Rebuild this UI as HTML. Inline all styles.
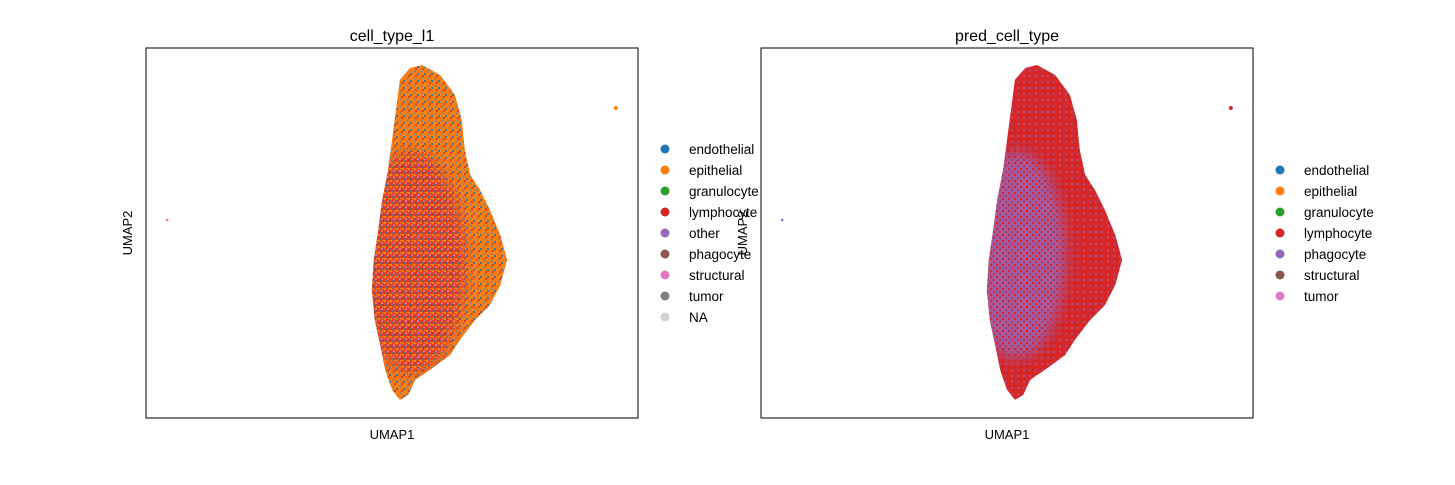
<!DOCTYPE html>
<html><head><meta charset="utf-8"><style>
body{margin:0;background:#fff;font-family:"Liberation Sans","DejaVu Sans",sans-serif;}
text{font-family:"Liberation Sans","DejaVu Sans",sans-serif;}
</style></head><body>
<svg id="fig" width="1455" height="480" xmlns="http://www.w3.org/2000/svg">
<defs>
<pattern id="pL" width="7" height="7" patternUnits="userSpaceOnUse">
<rect width="7" height="7" fill="#ff7f0e"/>
<circle cx="1.5" cy="1.5" r="1.1" fill="#7f7f7f"/><circle cx="5" cy="4" r="1.1" fill="#1f77b4"/>
<circle cx="3" cy="6" r="1" fill="#d62728"/>
</pattern>
<pattern id="pLc" width="6" height="6" patternUnits="userSpaceOnUse">
<rect width="6" height="6" fill="#d62728"/>
<circle cx="1" cy="1" r="1.3" fill="#ff7f0e"/><circle cx="4" cy="3" r="1.1" fill="#e377c2"/>
<circle cx="2" cy="5" r="1" fill="#1f77b4"/><circle cx="5" cy="0.5" r="1" fill="#ff7f0e"/>
</pattern>
<pattern id="pR" width="6" height="6" patternUnits="userSpaceOnUse">
<rect width="6" height="6" fill="#d62728"/><circle cx="4" cy="4" r="0.9" fill="#9467bd"/>
</pattern>
<pattern id="pRc" width="6" height="6" patternUnits="userSpaceOnUse">
<rect width="6" height="6" fill="#9467bd"/><circle cx="1" cy="1" r="1.3" fill="#d62728"/><circle cx="4" cy="4" r="1.1" fill="#d62728"/>
</pattern>
<filter id="soft"><feGaussianBlur stdDeviation="6"/></filter>
</defs>
<g id="plots"></g>
</svg>
<script>
// outline of embedding (axes units 0-100)
const outlineX=[56.1,59.8,62.8,64.2,64.8,65.9,67.9,69.9,72.0,73.4,72.0,69.9,66.9,63.8,61.8,57.7,54.7,53.3,51.6,50.0,48.6,47.6,46.5,45.9,46.3,47.2,48.0,49.2,50.0,50.8,51.6,53.7];
const outlineY=[95.4,92.7,87.3,80.5,72.4,65.7,61.6,56.2,49.5,42.7,35.9,30.5,26.5,21.1,17.0,13.0,10.3,6.2,4.9,7.6,13.0,19.7,26.5,34.6,42.7,50.8,58.9,67.0,75.1,83.2,91.4,94.6];
const outlierX=[4.3,95.5];
const outlierY=[53.5,83.8];
const legendL=["endothelial","epithelial","granulocyte","lymphocyte","other","phagocyte","structural","tumor","NA"];
const colorsL=["#1f77b4","#ff7f0e","#2ca02c","#d62728","#9467bd","#8c564b","#e377c2","#7f7f7f","#d3d3d3"];
const legendR=["endothelial","epithelial","granulocyte","lymphocyte","phagocyte","structural","tumor"];
const colorsR=["#1f77b4","#ff7f0e","#2ca02c","#d62728","#9467bd","#8c564b","#e377c2"];
const NS="http://www.w3.org/2000/svg";
const root=document.getElementById('plots');
function mk(t,a,p){const e=document.createElementNS(NS,t);for(const k in a)e.setAttribute(k,a[k]);(p||root).appendChild(e);return e;}
function panel(x0,title,fill,core,coreOut,outCols,leg,cols,legX,legY0,id,op){
  const W=492,H=370,Y0=48;
  const sx=v=>x0+v*W/100, sy=v=>Y0+H-v*H/100;
  const g=mk('g',{});
  
  
  const pts=outlineX.map((v,i)=>sx(v)+','+sy(outlineY[i])).join(' ');
  const b=mk('polygon',{points:pts,fill:fill},g);
  
  
  const cp=mk('clipPath',{id:id+'clip'},g);mk('polygon',{points:pts},cp);
  const mask=mk('mask',{id:id+'mask'},g);
  mk('ellipse',{cx:sx(coreOut[0]),cy:sy(coreOut[1]),rx:coreOut[2]*W/100,ry:coreOut[3]*H/100,fill:'#fff',filter:'url(#soft)'},mask);
  const c=mk('rect',{x:x0,y:Y0,width:W,height:H,fill:core,opacity:op,'clip-path':'url(#'+id+'clip)',mask:'url(#'+id+'mask)'},g);
  
  
  outlierX.forEach((v,i)=>{const o=mk('circle',{cx:sx(v),cy:sy(outlierY[i]),r:i?2:1.3,fill:outCols[i]},g);
    
    });
  const fr=mk('rect',{x:x0,y:Y0,width:W,height:H,fill:'none',stroke:'#000','stroke-width':1},g);
  
  
  const t=mk('text',{x:x0+W/2,y:41,'text-anchor':'middle','font-size':16},g);t.textContent=title;
  
  
  const xl=mk('text',{x:x0+W/2,y:439,'text-anchor':'middle','font-size':13},g);xl.textContent='UMAP1';
  
  
  const yl=mk('text',{x:0,y:0,'text-anchor':'middle','font-size':13,transform:'translate('+(x0-14)+','+(Y0+H/2)+') rotate(-90)'},g);yl.textContent='UMAP2';
  
  
  leg.forEach((n,i)=>{const y=legY0+i*21;
    const d=mk('circle',{cx:legX,cy:y,r:4.5,fill:cols[i]},g);
    
    
    const tx=mk('text',{x:legX+24,y:y+5,'font-size':13.5},g);tx.textContent=n;
    
    });
}
panel(146,'cell_type_l1','url(#pL)','url(#pLc)',[54,42,11,30],['#e377c2','#ff7f0e'],legendL,colorsL,665,149,'left',0.75);
panel(761,'pred_cell_type','url(#pR)','url(#pRc)',[52,44,10,28],['#9467bd','#d62728'],legendR,colorsR,1280,170,'right',0.85);
</script>
</body></html>
